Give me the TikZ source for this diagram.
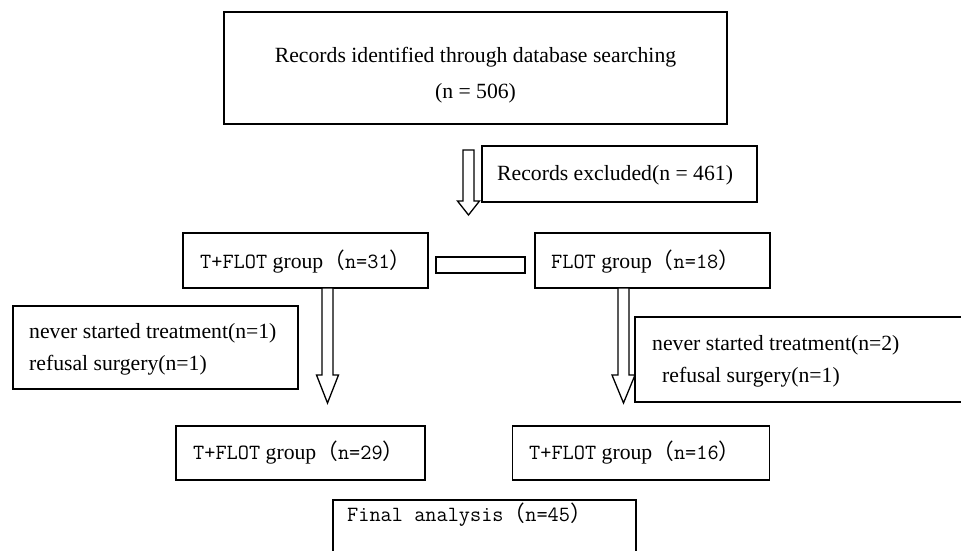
\documentclass[tikz,border=0pt]{standalone}
\usepackage{fontspec}
\setmainfont{Liberation Serif}
\newfontfamily\cjk{Noto Sans CJK SC}
\usetikzlibrary{calc}
\tikzset{
  box/.style={draw=black, line width=1.4pt, fill=none, inner sep=0pt},
  txt/.style={inner sep=0pt, font=\fontsize{21.7}{25}\selectfont},
  blk/.style={draw=black, line width=1.3pt, fill=white, line join=miter},
}
\newcommand\mono[1]{{\ttfamily #1}}
\newcommand\lp{{\cjk （}}
\newcommand\rp{{\cjk ）}}
% block arrow: name, center x, top y, head base y, shaft half width, head half width, tip y
\newcommand\blkarrow[7]{%
  \draw[blk] (#2-#5,#3) coordinate (#1) -- (#2-#5,#4) -- (#2-#6,#4) -- (#2,#7) -- (#2+#6,#4) -- (#2+#5,#4) -- (#2+#5,#3) -- cycle;}
\begin{document}
\begin{tikzpicture}[x=1pt,y=-1pt]
\useasboundingbox (0,0) rectangle (961,550);
\clip (0,0) rectangle (961,550);
% top box
\node[box, minimum width=503pt, minimum height=112pt] (top) at (475.5,68) {};
\node[txt, anchor=base] (top1) at (475.5,62) {Records identified through database searching};
\node[txt, anchor=base] (top2) at (475.5,98) {(n = 506)};
% excluded
\blkarrow{arrA}{468.5}{150}{201}{5.5}{11}{215}
\node[box, minimum width=275pt, minimum height=56pt] (excl) at (619.5,174) {};
\node[txt, anchor=base west] (excltxt) at (497,180) {Records excluded(n = 461)};
% groups
\node[box, minimum width=245pt, minimum height=55pt] (g1) at (305.5,260.5) {};
\node[txt, anchor=base west] (g1txt) at (200,268) {\mono{T+FLOT} group\lp\mono{n=31}\rp};
\node[box, minimum width=235pt, minimum height=55pt] (g2) at (652.5,260.5) {};
\node[txt, anchor=base west] (g2txt) at (551,268) {\mono{FLOT} group\lp\mono{n=18}\rp};
\node[box, minimum width=89pt, minimum height=16pt, line width=1.2pt] (mid) at (480.5,265) {};
% down arrows
\blkarrow{arrB}{327.5}{288}{375}{5.5}{11}{403}
\blkarrow{arrC}{623.5}{288}{375}{5.5}{11.5}{403}
% exclusion boxes
\node[box, minimum width=285pt, minimum height=83pt] (ex1) at (155.5,347.5) {};
\node[txt, anchor=base west] (ex1a) at (29,338) {never started treatment(n=1)};
\node[txt, anchor=base west] (ex1b) at (29,370) {refusal surgery(n=1)};
\node[box, minimum width=330pt, minimum height=85pt] (ex2) at (800,359.5) {};
\node[txt, anchor=base west] (ex2a) at (652,350) {never started treatment(n=2)};
\node[txt, anchor=base west] (ex2b) at (662,382) {refusal surgery(n=1)};
% final groups
\node[box, minimum width=249pt, minimum height=54pt] (f1) at (300.5,453) {};
\node[txt, anchor=base west] (f1txt) at (193,459) {\mono{T+FLOT} group\lp\mono{n=29}\rp};
\node[box, minimum width=257pt, minimum height=54pt] (f2) at (641,453) {};
\node[txt, anchor=base west] (f2txt) at (529,459) {\mono{T+FLOT} group\lp\mono{n=16}\rp};
% final analysis (cut at page bottom)
\node[box, minimum width=303pt, minimum height=60pt] (fin) at (484.5,530) {};
\node[txt, anchor=base west] (fintxt) at (347,521) {\mono{Final analysis}\lp\mono{n=45}\rp};
\end{tikzpicture}
\end{document}
